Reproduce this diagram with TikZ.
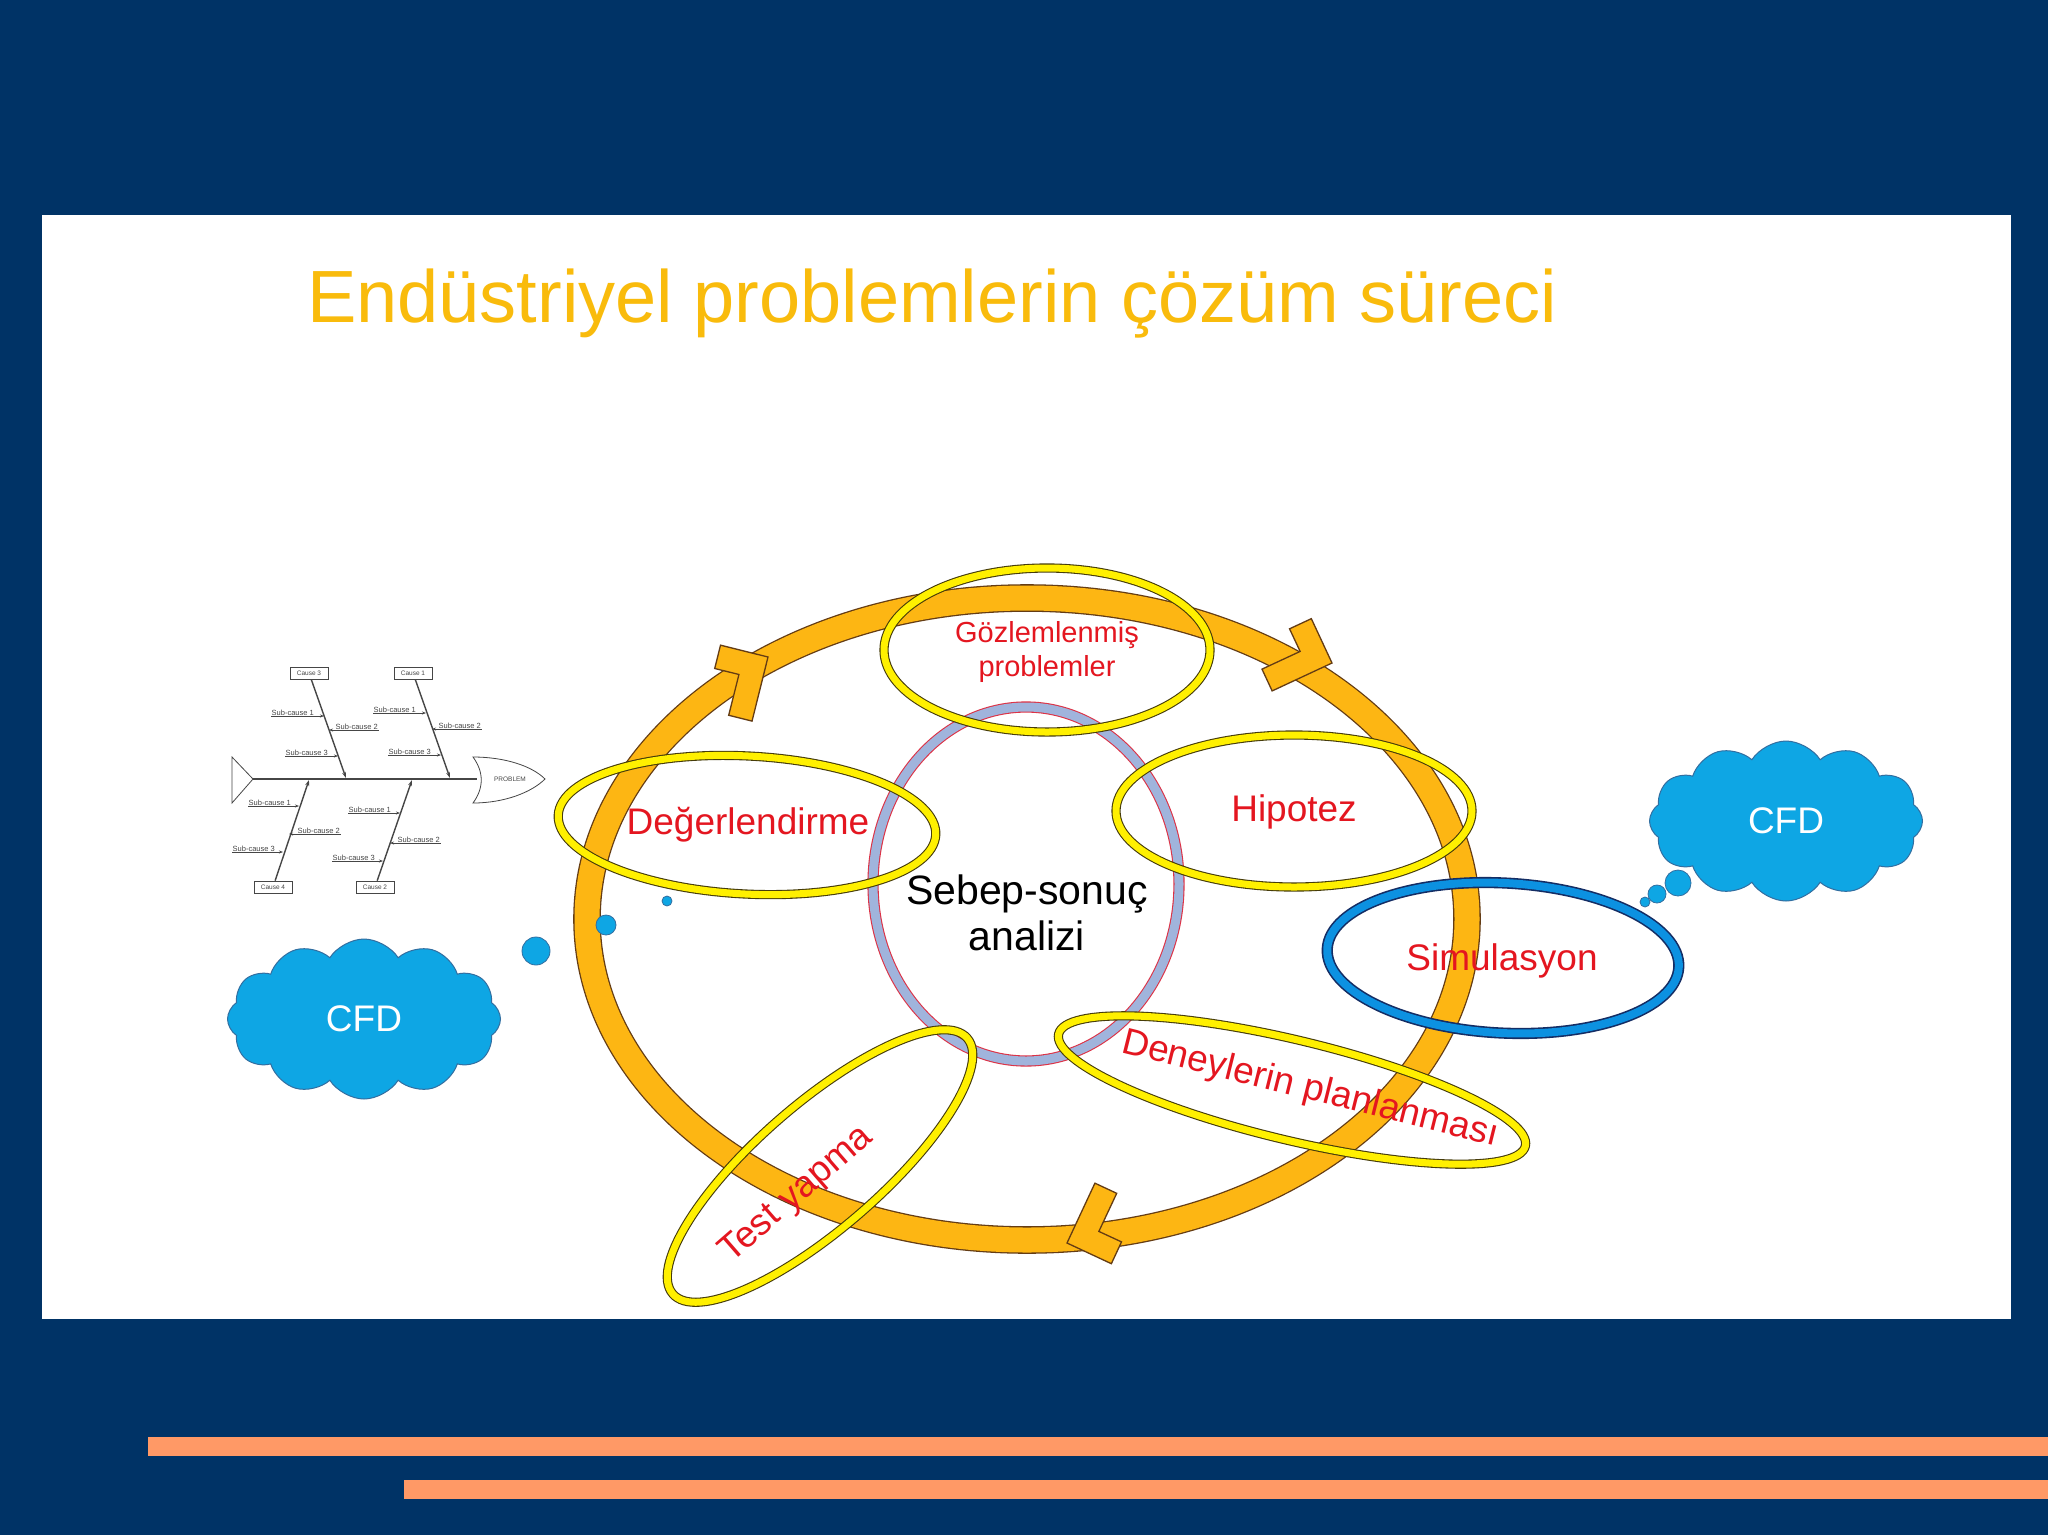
\documentclass[tikz,border=0pt]{standalone}
\usepackage{fontspec}
\setmainfont{Liberation Sans}
\usetikzlibrary{shapes.geometric,shapes.symbols,arrows.meta,calc}
\definecolor{bg}{RGB}{0,51,102}
\definecolor{barc}{RGB}{255,153,102}
\definecolor{titlec}{RGB}{249,187,12}
\definecolor{ringc}{RGB}{253,182,19}
\definecolor{ringd}{RGB}{100,60,20}
\definecolor{yel}{RGB}{255,240,0}
\definecolor{yeld}{RGB}{70,60,10}
\definecolor{lab}{RGB}{228,22,32}
\definecolor{cen}{RGB}{160,180,220}
\definecolor{cenr}{RGB}{220,50,70}
\definecolor{simc}{RGB}{12,145,225}
\definecolor{simd}{RGB}{20,45,100}
\definecolor{cloudc}{RGB}{14,166,228}
\definecolor{cloudd}{RGB}{50,110,160}
\definecolor{fish}{RGB}{70,70,70}
\newcommand\fsz[2]{\fontsize{#1}{#2}\selectfont}
\begin{document}
\begin{tikzpicture}[x=1pt,y=1pt,
  ringe/.style={ellipse, inner sep=0pt, draw=ringd, double=ringc, double distance=25pt, line width=1.3pt},
  yell/.style={ellipse, inner sep=0pt, draw=yeld, double=yel, double distance=7pt, line width=1.1pt},
  cene/.style={ellipse, inner sep=0pt, draw=cenr, double=cen, double distance=9pt, line width=1.1pt},
  sime/.style={ellipse, inner sep=0pt, draw=simd, double=simc, double distance=8pt, line width=1.6pt},
  lbl/.style={text=lab, inner sep=0pt, align=center, font=\fsz{37}{44}},
  cloudn/.style={cloud, cloud puffs=12, cloud puff arc=115, aspect=1.7, draw=cloudd, fill=cloudc, line width=1pt, inner sep=0pt, text=white, font=\fsz{37}{44}},
  bub/.style={circle, draw=cloudd, fill=cloudc, line width=0.8pt, inner sep=0pt},
  chev/.style={fill=ringc, draw=ringd, line width=1.3pt, line join=miter},
  cbox/.style={draw=fish, line width=0.7pt, inner sep=1pt, minimum width=38pt, minimum height=12pt, font=\fsz{6.5}{7}, text=fish},
  sub/.style={inner sep=0.5pt, font=\fsz{7.5}{8}, text=fish},
  bone/.style={draw=fish, line width=1.4pt, -{Stealth[length=6pt,width=4pt]}},
  twig/.style={draw=fish, line width=0.6pt, -{Stealth[length=4pt,width=3pt]}},
]
\begin{scope}[yscale=-1]
\useasboundingbox (0,0) rectangle (2048,1535);
\fill[bg] (0,0) rectangle (2048,1535);
\fill[white] (42,215) rectangle (2011,1319);
\fill[barc] (148,1437) rectangle (2048,1456);
\fill[barc] (404,1480) rectangle (2048,1499);

\node[anchor=base west, text=titlec, inner sep=0pt, font=\fsz{74}{80}] (title) at (307,322) {Endüstriyel problemlerin çözüm süreci};

% ring
\node[ringe, minimum width=880pt, minimum height=642pt] (ring) at (1027,919) {};
\begin{scope}[shift={(768,657)}, rotate=-31]
\filldraw[chev] (0,0) -- (-34.6,-34.6) -- (-51.6,-17.6) -- (-33.9,0) -- (-63.7,29.7) -- (-46.7,46.7) -- cycle;
\end{scope}
\begin{scope}[shift={(1332,663)}, rotate=20]
\filldraw[chev] (0,0) -- (-34.6,-34.6) -- (-51.6,-17.6) -- (-33.9,0) -- (-63.7,29.7) -- (-46.7,46.7) -- cycle;
\end{scope}
\begin{scope}[shift={(1067,1243)}, rotate=160]
\filldraw[chev] (0,0) -- (-34.6,-34.6) -- (-51.6,-17.6) -- (-33.9,0) -- (-63.7,29.7) -- (-46.7,46.7) -- cycle;
\end{scope}

% central ellipse
\node[cene, minimum width=306pt, minimum height=354pt] (cen) at (1026,884) {};

% yellow ellipses
\node[yell, minimum width=326pt, minimum height=164pt] (gz) at (1047,650) {};
\node[yell, minimum width=378pt, minimum height=138pt, rotate=-3] (dg) at (747,825) {};
\node[yell, minimum width=356pt, minimum height=152pt] (hp) at (1294,811) {};
\node[yell, minimum width=480pt, minimum height=100pt, rotate=-13.5] (dn) at (1292,1090) {};
\node[yell, minimum width=390pt, minimum height=124pt, rotate=41] (ty) at (820,1166) {};
\node[sime, minimum width=352pt, minimum height=150pt, rotate=-3] (sm) at (1503,958) {};

% labels
\node[lbl, font=\fsz{29}{34}] (gzt) at (1047,652) {Gözlemlenmiş\\problemler};
\node[lbl] (dgt) at (748,825) {Değerlendirme};
\node[lbl] (hpt) at (1294,812) {Hipotez};
\node[inner sep=0pt, align=center, font=\fsz{41}{46}] (sst) at (1027,913) {Sebep-sonuç\\analizi};
\node[lbl] (smt) at (1502,961) {Simulasyon};
\node[lbl, rotate=-14] (dnt) at (1310,1090) {Deneylerin planlanması};
\node[lbl, rotate=41] (tyt) at (797,1195) {Test yapma};

% clouds
\node[cloudn, minimum width=273pt, minimum height=160pt] (cfd1) at (1786,821) {CFD};
\node[bub, minimum size=26pt] (b1a) at (1678,883) {};
\node[bub, minimum size=18pt] (b1b) at (1657,894) {};
\node[bub, minimum size=10pt] (b1c) at (1645,902) {};
\node[cloudn, minimum width=273pt, minimum height=160pt] (cfd2) at (364,1019) {CFD};
\node[bub, minimum size=28pt] (b2a) at (536,951) {};
\node[bub, minimum size=20pt] (b2b) at (606,925) {};
\node[bub, minimum size=10pt] (b2c) at (667,901) {};

% fishbone
\filldraw[fill=white, draw=fish, line width=0.8pt] (232,757) -- (253,779) -- (232,803) -- cycle;
\coordinate (tailtip) at (253,779);
\coordinate (headbase) at (477,779);
\draw[draw=fish, line width=2.6pt] (tailtip) -- (headbase);
\filldraw[fill=white, draw=fish, line width=0.8pt] (473,757) .. controls (484,772) and (484,788) .. (473,803) .. controls (505,803) and (532,792) .. (545,779) .. controls (532,766) and (505,757) .. (473,757) -- cycle;
\node[inner sep=0pt, font=\fsz{6.5}{7}, text=fish] (prob) at (510,779) {PROBLEM};

\node[cbox] (c3) at (309,673) {Cause 3};
\node[cbox] (c1) at (413,673) {Cause 1};
\node[cbox] (c4) at (273,887) {Cause 4};
\node[cbox] (c2) at (375,887) {Cause 2};
\coordinate (s3) at (346,778);
\coordinate (s1) at (450,778);
\coordinate (s4) at (309,780);
\coordinate (s2) at (412,780);
\draw[bone] (c3) -- (s3);
\draw[bone] (c1) -- (s1);
\draw[bone] (c4) -- (s4);
\draw[bone] (c2) -- (s2);

% sub-causes left of their bone
\foreach \n/\k/\lx/\ly/\bx in {u31/1/271/716/324, u33/3/285/756/338, u11/1/373/713/426, u13/3/388/755/441, u41/1/248/806/299, u43/3/232/852/283, u21/1/348/813/400, u23/3/332/861/383}{
  \node[sub, anchor=south west] (\n) at (\lx,\ly) {Sub-cause \k};
  \coordinate (b\n) at (\bx,\ly);
  \draw[twig] (\n.south west) -- (b\n);
}
% sub-causes right of their bone
\foreach \n/\k/\lx/\ly/\bx in {u32/2/335/730/329, u12/2/438/729/432, u42/2/297/834/289, u22/2/397/843/390}{
  \node[sub, anchor=south west] (\n) at (\lx,\ly) {Sub-cause \k};
  \coordinate (b\n) at (\bx,\ly);
  \draw[twig] (\n.south east) -- (b\n);
}
\end{scope}
\end{tikzpicture}
\end{document}
